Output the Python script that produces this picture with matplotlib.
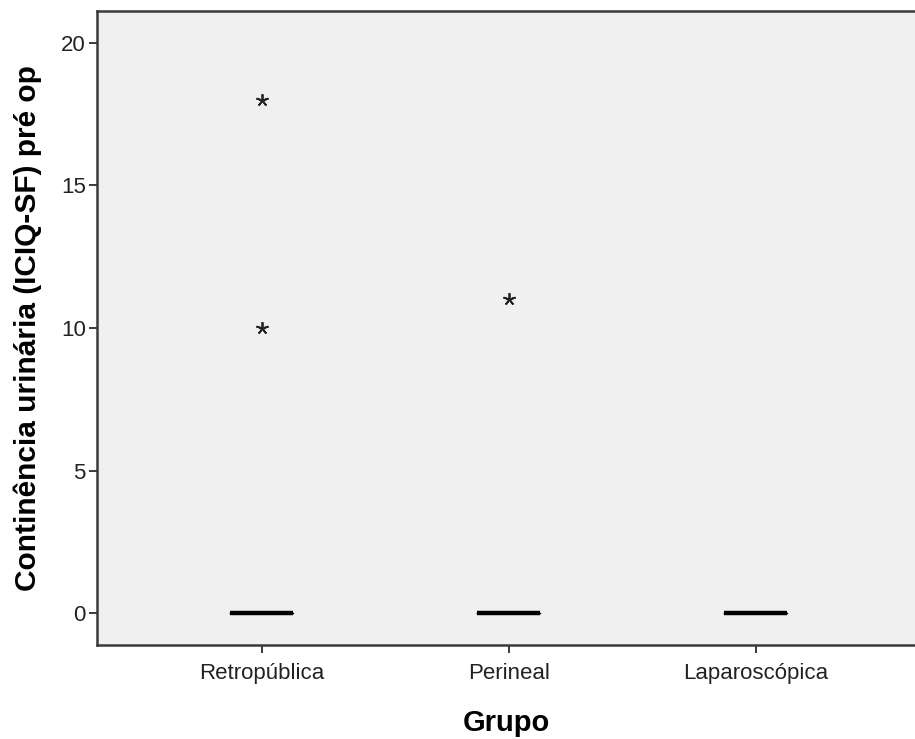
import numpy as np
import matplotlib
matplotlib.use("Agg")
from matplotlib import pyplot as plt

plt.rcParams['font.family'] = ['Liberation Sans', 'DejaVu Sans']

grupos = ['Retropública', 'Perineal', 'Laparoscópica']
medianas = [0, 0, 0]
q1 = [0, 0, 0]
q3 = [0, 0, 0]
bigode_inf = [0, 0, 0]
bigode_sup = [0, 0, 0]
extremos = [[10, 18], [11], []]

stats = []
for i, g in enumerate(grupos):
    stats.append(dict(label=g, med=medianas[i], q1=q1[i], q3=q3[i],
                      whislo=bigode_inf[i], whishi=bigode_sup[i],
                      fliers=extremos[i]))

fig = plt.figure(figsize=(9.15, 7.39), dpi=100)
ax = fig.add_axes([97/915, 1 - 645/739, 1 - 97/915, (645 - 11)/739])
ax.set_facecolor('#f0f0f0')

ax.bxp(stats, positions=[1, 2, 3], widths=0.255, showfliers=True,
       boxprops=dict(color='black', linewidth=1),
       medianprops=dict(color='black', linewidth=3.2, solid_capstyle='butt'),
       whiskerprops=dict(color='black', linewidth=1),
       capprops=dict(color='black', linewidth=0),
       flierprops=dict(marker=(5, 2, 0), markersize=9, markeredgecolor='#222222',
                       markerfacecolor='none', markeredgewidth=1.3, linestyle='none'))

ax.set_xlim(0.332, 3.644)
ax.set_ylim(-1.11, 21.11)
ax.set_yticks([0, 5, 10, 15, 20])
ax.set_xticks([1, 2, 3])
ax.set_xticklabels(grupos)

for s in ['left', 'bottom', 'top']:
    ax.spines[s].set_color('#3a3a3a')
    ax.spines[s].set_linewidth(1.8)
ax.spines['right'].set_visible(False)

ax.tick_params(axis='both', direction='out', length=6, width=1.4, color='#3a3a3a',
               labelsize=16, labelcolor='#222222', pad=2)
ax.tick_params(axis='x', pad=7)

ax.set_xlabel('Grupo', fontsize=21, fontweight='bold', labelpad=18)
ax.set_ylabel('Continência urinária (ICIQ-SF) pré op', fontsize=21.5, fontweight='bold', labelpad=14)

fig.savefig('out.png', dpi=100)
